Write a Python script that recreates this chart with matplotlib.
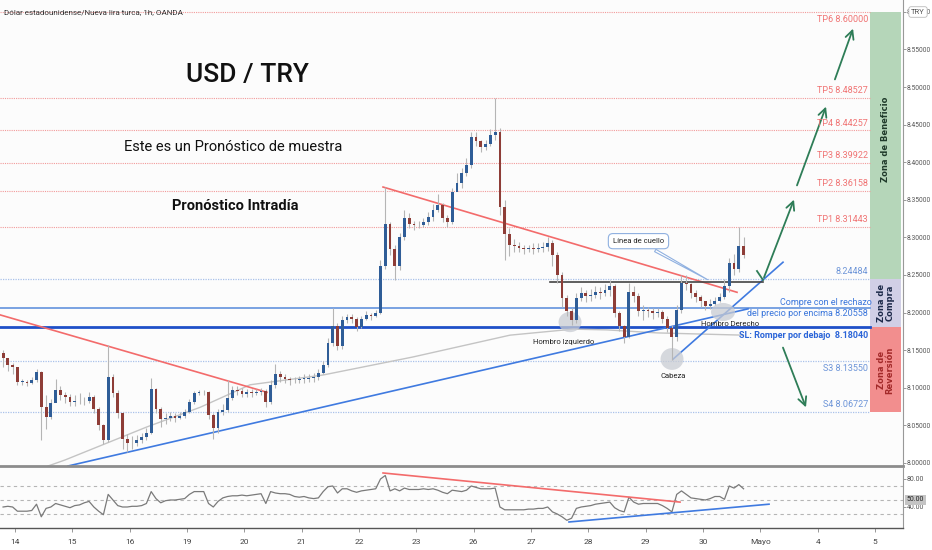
import numpy as np
import matplotlib.pyplot as plt
from matplotlib.patches import Rectangle, Ellipse

# velas de 2 horas: (cierre, maximo, minimo)
first_open = 8.146
d13 = [(8.140, 8.150, 8.128), (8.130, 8.138, 8.122), (8.128, 8.133, 8.118)]
d14 = [(8.108, 8.122, 8.104), (8.108, 8.112, 8.104), (8.107, 8.111, 8.103), (8.110, 8.114, 8.105),
       (8.121, 8.125, 8.108), (8.075, 8.122, 8.031), (8.061, 8.090, 8.045), (8.080, 8.085, 8.058),
       (8.097, 8.112, 8.085), (8.090, 8.103, 8.084), (8.088, 8.095, 8.080), (8.081, 8.092, 8.076)]
d15 = [(8.082, 8.090, 8.076), (8.083, 8.093, 8.078), (8.082, 8.088, 8.077), (8.088, 8.095, 8.080),
       (8.072, 8.090, 8.066), (8.050, 8.075, 8.044), (8.031, 8.052, 8.025), (8.114, 8.157, 8.028),
       (8.093, 8.118, 8.088), (8.066, 8.097, 8.060), (8.032, 8.068, 8.018), (8.026, 8.038, 8.015)]
d16 = [(8.027, 8.036, 8.018), (8.030, 8.037, 8.022), (8.034, 8.040, 8.026), (8.040, 8.046, 8.030),
       (8.098, 8.113, 8.038), (8.072, 8.100, 8.066), (8.058, 8.075, 8.048), (8.060, 8.066, 8.052),
       (8.062, 8.068, 8.056), (8.060, 8.066, 8.055), (8.063, 8.068, 8.058), (8.068, 8.072, 8.060)]
d19 = [(8.081, 8.085, 8.066), (8.093, 8.096, 8.079), (8.094, 8.097, 8.090), (8.094, 8.097, 8.090),
       (8.064, 8.096, 8.058), (8.046, 8.066, 8.032), (8.068, 8.072, 8.040), (8.071, 8.078, 8.064),
       (8.086, 8.110, 8.068), (8.097, 8.102, 8.084), (8.096, 8.102, 8.090), (8.092, 8.100, 8.088)]
d20 = [(8.094, 8.098, 8.088), (8.093, 8.098, 8.088), (8.094, 8.098, 8.090), (8.096, 8.100, 8.090),
       (8.081, 8.098, 8.074), (8.104, 8.110, 8.078), (8.118, 8.132, 8.100), (8.114, 8.122, 8.108),
       (8.112, 8.118, 8.106), (8.110, 8.114, 8.104), (8.110, 8.114, 8.106), (8.112, 8.116, 8.106)]
d21 = [(8.112, 8.118, 8.106), (8.113, 8.118, 8.108), (8.114, 8.120, 8.108), (8.120, 8.125, 8.110),
       (8.130, 8.136, 8.118), (8.160, 8.166, 8.128), (8.182, 8.206, 8.156), (8.155, 8.186, 8.150),
       (8.190, 8.196, 8.152), (8.194, 8.198, 8.186), (8.192, 8.198, 8.186), (8.181, 8.194, 8.176)]
d22 = [(8.191, 8.196, 8.180), (8.197, 8.202, 8.190), (8.196, 8.200, 8.190), (8.200, 8.204, 8.194),
       (8.262, 8.270, 8.198), (8.318, 8.367, 8.258), (8.284, 8.320, 8.276), (8.262, 8.290, 8.243),
       (8.300, 8.306, 8.256), (8.326, 8.336, 8.296), (8.318, 8.332, 8.312), (8.316, 8.322, 8.310)]
d23 = [(8.317, 8.322, 8.312), (8.320, 8.326, 8.314), (8.327, 8.334, 8.316), (8.336, 8.344, 8.322),
       (8.343, 8.358, 8.334), (8.326, 8.346, 8.320), (8.320, 8.330, 8.314), (8.360, 8.366, 8.318),
       (8.372, 8.386, 8.362), (8.386, 8.392, 8.366), (8.396, 8.405, 8.382), (8.434, 8.440, 8.392)]
d26 = [(8.428, 8.440, 8.422), (8.420, 8.430, 8.414), (8.424, 8.430, 8.416), (8.436, 8.444, 8.422),
       (8.440, 8.485, 8.430), (8.340, 8.446, 8.330), (8.305, 8.350, 8.270), (8.290, 8.312, 8.275),
       (8.288, 8.298, 8.280), (8.286, 8.294, 8.280), (8.284, 8.290, 8.278), (8.286, 8.290, 8.280)]
d27 = [(8.285, 8.292, 8.278), (8.286, 8.292, 8.280), (8.287, 8.294, 8.280), (8.292, 8.300, 8.282),
       (8.276, 8.296, 8.262), (8.250, 8.280, 8.240), (8.220, 8.254, 8.208), (8.202, 8.224, 8.196),
       (8.190, 8.206, 8.184), (8.220, 8.226, 8.186), (8.226, 8.234, 8.216), (8.222, 8.230, 8.214)]
d28 = [(8.224, 8.232, 8.216), (8.228, 8.236, 8.220), (8.226, 8.234, 8.218), (8.230, 8.238, 8.222),
       (8.236, 8.244, 8.222), (8.200, 8.238, 8.194), (8.182, 8.202, 8.176), (8.168, 8.184, 8.160),
       (8.228, 8.240, 8.166), (8.222, 8.236, 8.214), (8.202, 8.226, 8.196), (8.203, 8.210, 8.190)]
d29 = [(8.202, 8.208, 8.194), (8.200, 8.206, 8.192), (8.201, 8.206, 8.194), (8.192, 8.204, 8.186),
       (8.180, 8.196, 8.174), (8.168, 8.184, 8.137), (8.204, 8.210, 8.162), (8.240, 8.250, 8.200),
       (8.238, 8.250, 8.230), (8.226, 8.240, 8.220), (8.221, 8.230, 8.214), (8.216, 8.224, 8.208)]
d30 = [(8.209, 8.216, 8.204), (8.212, 8.218, 8.205), (8.216, 8.221, 8.210), (8.221, 8.226, 8.214),
       (8.235, 8.245, 8.218), (8.266, 8.272, 8.228), (8.258, 8.278, 8.250), (8.288, 8.314, 8.254),
       (8.277, 8.300, 8.272)]

rsi13 = [40, 41, 40]
rsi14 = [34, 34, 34, 35, 44, 26, 38, 40, 45, 43, 41, 39]
rsi15 = [42, 43, 46, 48, 40, 34, 29, 58, 50, 42, 40, 40]
rsi16 = [41, 41, 42, 45, 62, 52, 46, 49, 50, 50, 51, 52]
rsi19 = [58, 62, 62, 62, 45, 40, 48, 53, 55, 56, 56, 57]
rsi20 = [56, 57, 58, 59, 45, 62, 60, 59, 59, 58, 55, 54]
rsi21 = [55, 53, 52, 53, 62, 69, 70, 60, 66, 66, 63, 61]
rsi22 = [63, 64, 65, 66, 80, 85, 63, 66, 63, 67, 65, 65]
rsi23 = [65, 66, 65, 66, 64, 61, 59, 64, 63, 62, 64, 70]
rsi26 = [68, 66, 66, 66, 67, 40, 36, 36, 36, 36, 36, 37]
rsi27 = [37, 38, 38, 40, 33, 30, 26, 21, 24, 38, 40, 41]
rsi28 = [42, 44, 45, 46, 47, 39, 35, 33, 54, 47, 44, 45]
rsi29 = [45, 45, 45, 42, 38, 33, 58, 63, 58, 53, 52, 51]
rsi30 = [50, 52, 55, 55, 51, 70, 67, 72, 66]

day_labels = ["14", "15", "16", "19", "20", "21", "22", "23", "26", "27", "28", "29", "30", "Mayo", "4", "5"]

# niveles del pronostico
tp_names = ["TP6", "TP5", "TP4", "TP3", "TP2", "TP1"]
tp_levels = [8.60000, 8.48527, 8.44257, 8.39922, 8.36158, 8.31443]
buy_level = 8.24484
entry_level = 8.20558
sl_level = 8.18040
s_names = ["S3", "S4"]
s_levels = [8.13550, 8.06727]

# lineas dibujadas (dia, precio)
red_line_a = [(-0.262, 8.197), (4.396, 8.094)]
red_line_b = [(6.419, 8.367), (12.594, 8.227)]
blue_line_a = [(0.924, 7.996), (12.786, 8.205)]
blue_line_b = [(11.477, 8.138), (13.396, 8.267)]
neck_line = [(9.332, 8.241), (13.047, 8.241)]
ma_t = [0.576, 0.872, 2.302, 3.227, 4.099, 5.372, 6.942, 8.634, 9.733, 10.326, 11.198, 12.698]
ma_p = [7.996, 8.004, 8.048, 8.074, 8.104, 8.117, 8.141, 8.170, 8.178, 8.177, 8.173, 8.170]
rsi_red = [(6.419, 88.6), (11.600, 47)]
rsi_blue = [(9.663, 18.6), (13.152, 44)]

plt.rcParams['font.family'] = ['Roboto', 'DejaVu Sans']

days = [d13, d14, d15, d16, d19, d20, d21, d22, d23, d26, d27, d28, d29, d30]
rsis = [rsi13, rsi14, rsi15, rsi16, rsi19, rsi20, rsi21, rsi22, rsi23, rsi26, rsi27, rsi28, rsi29, rsi30]
t, closes, highs, lows, rsi = [], [], [], [], []
for k, (day, rv) in enumerate(zip(days, rsis)):
    start = 9 if k == 0 else 0
    for j, (c, h, l) in enumerate(day):
        t.append(k - 1 + (start + j + 0.5) / 12)
        closes.append(c); highs.append(h); lows.append(l)
    rsi += rv
t = np.array(t); closes = np.array(closes)
opens = np.r_[first_open, closes[:-1]]

W, H = 932, 550
fig = plt.figure(figsize=(W / 100, H / 100), dpi=100, facecolor='white')
ax = fig.add_axes([0, 1 - 466 / H, 903 / W, 466 / H])
rx = fig.add_axes([0, 1 - 528 / H, 903 / W, 60 / H])
for a in (ax, rx):
    a.set_facecolor('#fcfcfc')
    a.set_xlim(-0.262, 15.489)

ax.set_ylim(7.996, 8.6157)

# niveles horizontales
for lv in tp_levels:
    ax.plot([-0.262, 14.913], [lv, lv], color='#f29a9a', lw=0.8, ls=(0, (1, 1)))
for lv in [buy_level] + s_levels:
    ax.plot([-0.262, 14.913], [lv, lv], color='#a9c1ea', lw=0.9, ls=(0, (1, 1)))
ax.plot([-0.262, 14.913], [entry_level] * 2, color='#6f9be0', lw=1.3)
ax.plot([-0.262, 14.913], [sl_level] * 2, color='#1e50c8', lw=2.0)

# media movil y lineas de tendencia
ax.plot(ma_t, ma_p, color='#c4c4c4', lw=1.0)
for ln, col in [(red_line_a, '#f36b6b'), (red_line_b, '#f36b6b'),
                (blue_line_a, '#3f7ae0'), (blue_line_b, '#3f7ae0'), (neck_line, '#444444')]:
    xs, ys = zip(*ln)
    ax.plot(xs, ys, color=col, lw=1.2)

# hombro-cabeza-hombro
for (cx, cy, w, h) in [(9.681, 8.1875, 0.40, 0.027), (11.460, 8.1383, 0.40, 0.029), (12.350, 8.2008, 0.42, 0.024)]:
    ax.add_patch(Ellipse((cx, cy), w, h, color='#c9ccd3', alpha=0.75, lw=0, zorder=2))
ax.text(9.576, 8.1609, 'Hombro Izquierdo', fontsize=5.5, ha='center', va='center', color='#222')
ax.text(11.477, 8.1157, 'Cabeza', fontsize=5.5, ha='center', va='center', color='#222')
ax.text(12.472, 8.1848, 'Hombro Derecho', fontsize=5.5, ha='center', va='center', color='#222')

# velas
up = closes >= opens
ax.vlines(t, lows, highs, color='#b5b5b5', lw=0.8, zorder=3)
body = np.maximum(np.abs(closes - opens), 0.0008)
ax.bar(t, body, bottom=np.minimum(opens, closes), width=0.05,
       color=np.where(up, '#2f5d97', '#8e3d37'), zorder=4)

ax.annotate('Línea de cuello', xy=(12.123, 8.242), xytext=(10.875, 8.295), fontsize=5.5, color='#222',
            ha='center', va='center',
            bbox=dict(boxstyle='round,pad=0.6', fc='white', ec='#8fb0e0', lw=0.8),
            arrowprops=dict(arrowstyle='wedge,tail_width=0.35', fc='white', ec='#8fb0e0', lw=0.8))

# flechas verdes
green = '#2e7d57'
ax.plot([12.942, 13.047], [8.2553, 8.2434], color=green, lw=1.3)
for (x0, y0, x1, y1) in [(13.047, 8.2434, 13.605, 8.3537), (13.623, 8.3657, 14.163, 8.4774),
                         (14.285, 8.5066, 14.634, 8.5811), (13.378, 8.1569, 13.814, 8.0705)]:
    ax.annotate('', xy=(x1, y1), xytext=(x0, y0),
                arrowprops=dict(arrowstyle='->,head_length=0.6,head_width=0.3', color=green, lw=1.3))

# zonas
zx0, zw = 14.913, 0.541
ax.add_patch(Rectangle((zx0, buy_level), zw, tp_levels[0] - buy_level, color='#b5d6b9', lw=0))
ax.add_patch(Rectangle((zx0, sl_level), zw, buy_level - sl_level, color='#d1cfe6', lw=0))
ax.add_patch(Rectangle((zx0, s_levels[1]), zw, sl_level - s_levels[1], color='#f28e8e', lw=0))
zmid = zx0 + zw / 2
ax.text(zmid, 8.43, 'Zona de Beneficio', rotation=90, ha='center', va='center', fontsize=6,
        family='DejaVu Sans', weight='bold', color='#1f3a2a')
ax.text(zmid, (buy_level + sl_level) / 2, 'Zona de\nCompra', rotation=90, ha='center', va='center',
        fontsize=6, family='DejaVu Sans', weight='bold', color='#1d2a4a', linespacing=0.9)
ax.text(zmid, (sl_level + s_levels[1]) / 2, 'Zona de\nReversión', rotation=90, ha='center', va='center',
        fontsize=6, family='DejaVu Sans', weight='bold', color='#a32a2a', linespacing=0.9)

# etiquetas de niveles
lx = 14.878
for i, (n, lv) in enumerate(zip(tp_names, tp_levels)):
    off = -0.0096 if i == 0 else 0.0095
    ax.text(lx, lv + off, f'{n} {lv:.5f}', ha='right', va='center', fontsize=6.5, color='#f07373')
ax.text(lx, buy_level + 0.0095, f'{buy_level:.5f}', ha='right', va='center', fontsize=6.5, color='#6d95d8')
ax.text(14.15, entry_level + 0.0072, 'Compre con el rechazo', ha='center', va='center', fontsize=6.5, color='#3a76dc')
ax.text(lx, entry_level - 0.0062, f'del precio por encima {entry_level:.5f}', ha='right', va='center',
        fontsize=6.5, color='#3a76dc')
ax.text(lx, sl_level - 0.0115, f'SL: Romper por debajo  {sl_level:.5f}', ha='right', va='center',
        fontsize=6.5, weight='bold', color='#2a64d8')
ax.text(lx, s_levels[0] - 0.0092, f'{s_names[0]} {s_levels[0]:.5f}', ha='right', va='center', fontsize=6.5, color='#6d95d8')
ax.text(lx, s_levels[1] + 0.01, f'{s_names[1]} {s_levels[1]:.5f}', ha='right', va='center', fontsize=6.5, color='#6d95d8')

# textos de cabecera
fig.text(4 / W, 1 - 12 / H, 'Dólar estadounidense/Nueva lira turca, 1h, OANDA', fontsize=5.8, color='#333', va='center')
fig.text(247 / W, 1 - 75 / H, 'USD / TRY', fontsize=19, color='#111', ha='center', va='center', weight='medium')
fig.text(233 / W, 1 - 147 / H, 'Este es un Pronóstico de muestra', fontsize=10.5, color='#111', ha='center', va='center')
fig.text(235 / W, 1 - 206 / H, 'Pronóstico Intradía', fontsize=10.5, color='#111', ha='center', va='center', weight='bold')

# eje de precios
ax.yaxis.tick_right()
ax.set_yticks(np.arange(8.0, 8.601, 0.05))
ax.set_yticklabels([f'{v:.5f}' for v in np.arange(8.0, 8.601, 0.05)], fontsize=4.8, color='#555')
ax.tick_params(axis='y', length=2, width=0.6, color='#888', pad=0.8)
ax.set_xticks([])
for s in ['left', 'top']:
    ax.spines[s].set_visible(False)
ax.spines['right'].set_color('#999'); ax.spines['right'].set_linewidth(0.8)
ax.spines['bottom'].set_color('#8c8c8c'); ax.spines['bottom'].set_linewidth(2)
fig.text(918 / W, 1 - 12 / H, 'TRY', fontsize=5.5, color='#555', ha='center', va='center',
         bbox=dict(boxstyle='round,pad=0.3', fc='white', ec='#bbb', lw=0.6))

# RSI
rx.set_ylim(10, 95.7)
for lv in [70, 50, 30]:
    rx.axhline(lv, color='#b5b5b5', lw=0.8, ls=(0, (3, 3)))
rx.plot(t, rsi, color='#7a7a7a', lw=0.9)
for ln, col in [(rsi_red, '#f36b6b'), (rsi_blue, '#3f7ae0')]:
    xs, ys = zip(*ln)
    rx.plot(xs, ys, color=col, lw=1.2)
rx.yaxis.tick_right()
rx.set_yticks([40, 80])
rx.set_yticklabels(['40.00', '80.00'], fontsize=5, color='#555')
rx.tick_params(axis='y', length=2, width=0.6, color='#888', pad=0.8)
rx.text(1.004, 50, '50.00', transform=rx.get_yaxis_transform(), fontsize=5, color='#222', va='center',
        bbox=dict(boxstyle='square,pad=0.25', fc='#c4c4c4', ec='none'))
rx.set_xticks(range(len(day_labels)))
rx.set_xticklabels(day_labels, fontsize=6, color='#444')
rx.tick_params(axis='x', length=3, width=0.6, color='#888', pad=5)
rx.spines['top'].set_visible(False); rx.spines['left'].set_visible(False)
rx.spines['right'].set_color('#999'); rx.spines['right'].set_linewidth(0.8)
rx.spines['bottom'].set_color('#555'); rx.spines['bottom'].set_linewidth(1)

fig.savefig('out.png', dpi=100, facecolor='white')
